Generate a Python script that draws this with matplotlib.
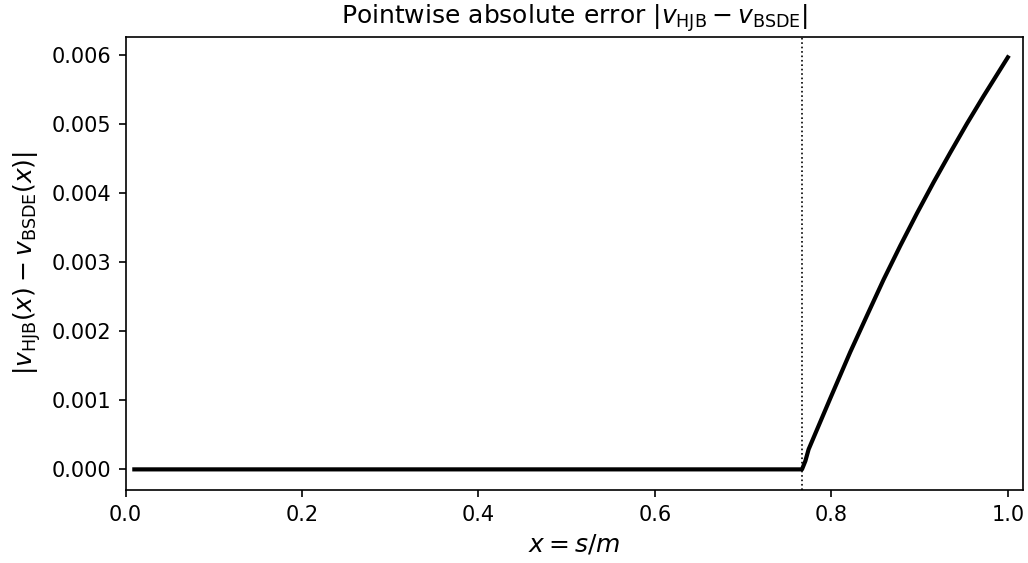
import numpy as np
import matplotlib.pyplot as plt

# values
x_vals = [0.01, 0.40, 0.7667, 0.7705, 0.7742, 0.7988, 0.8214, 0.8404, 0.8592,
          0.8781, 0.8970, 0.9159, 0.9348, 0.9537, 0.9726, 1.0]
err_vals = [0.0, 0.0, 0.0, 0.00012, 0.00029, 0.00103, 0.00170, 0.00223, 0.00275,
            0.00324, 0.00371, 0.00416, 0.00459, 0.00501, 0.00541, 0.00597]
x_switch = 0.7667

fig = plt.figure(figsize=(1028 / 150, 563 / 150), dpi=150)
ax = fig.add_axes([0.1221, 0.1297, 0.8733, 0.8051])

ax.plot(x_vals, err_vals, color='black', linewidth=2.0)
ax.axvline(x_switch, color='black', linestyle=':', linewidth=0.8)

ax.set_xlim(0, 1.0175)
ax.set_xlabel(r'$x = s/m$', fontsize=12)
ax.set_ylabel(r'$|v_{\mathrm{HJB}}(x) - v_{\mathrm{BSDE}}(x)|$', fontsize=12)
ax.set_title(r'Pointwise absolute error $|v_{\mathrm{HJB}} - v_{\mathrm{BSDE}}|$', fontsize=12)

fig.savefig('out.png', dpi=150)
